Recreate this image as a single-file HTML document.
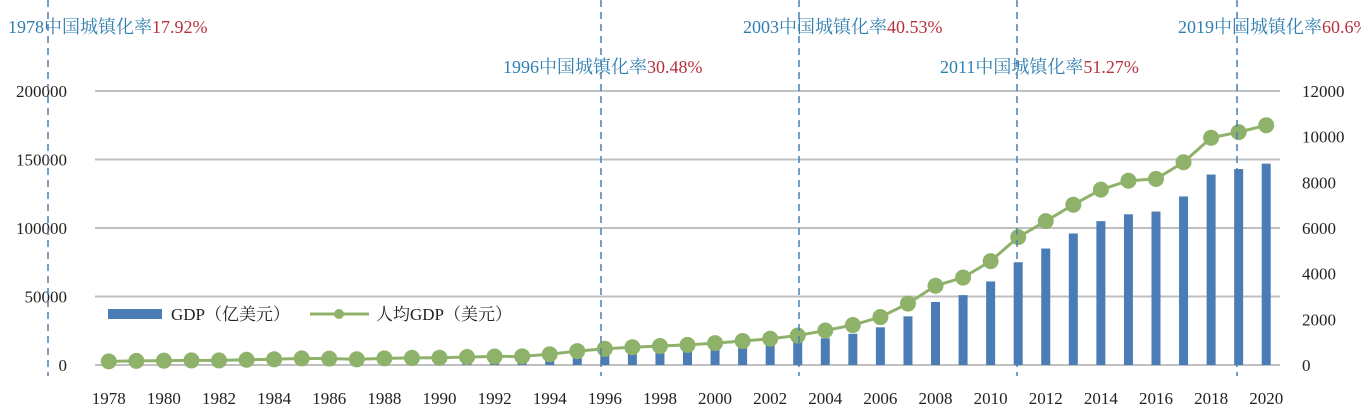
<!DOCTYPE html>
<html><head><meta charset="utf-8"><style>
body{margin:0;background:#fff;}
svg{display:block;font-family:"Liberation Serif","Noto Serif CJK SC",serif;}
</style></head><body>
<svg id="c" width="1361" height="419"></svg>
<script>
const years=[];for(let y=1978;y<=2020;y++)years.push(y);
const gdp=[1500,1800,1900,2000,2100,2300,2600,3100,3000,2700,3100,3500,3600,3800,4900,4400,5600,7300,8600,9600,10300,10900,12100,13400,14700,16600,19500,22800,27500,35500,46000,51000,61000,75000,85000,96000,105000,110000,112000,123000,139000,143000,147000];
const gdpPc=[160,180,190,200,200,230,250,290,280,250,290,310,320,350,370,380,470,610,710,780,830,880,960,1050,1150,1290,1510,1750,2100,2690,3470,3830,4550,5600,6300,7020,7680,8070,8150,8880,9950,10200,10500];
const leftTicks=[0,50000,100000,150000,200000];
const rightTicks=[0,2000,4000,6000,8000,10000,12000];
const notes=[{year:1978,label:"1978中国城镇化率",rate:"17.92%",row:0,x:8,lx:48},{year:1996,label:"1996中国城镇化率",rate:"30.48%",row:1,x:503,lx:601},{year:2003,label:"2003中国城镇化率",rate:"40.53%",row:0,x:743,lx:799},{year:2011,label:"2011中国城镇化率",rate:"51.27%",row:1,x:940,lx:1017},{year:2019,label:"2019中国城镇化率",rate:"60.6%",row:0,x:1178,lx:1237}];
const NS="http://www.w3.org/2000/svg",svg=document.getElementById('c');
const X0=95,X1=1280,Y0=365,Ytop=91;
const bw=(X1-X0)/years.length;
const xc=i=>X0+bw*(i+0.5);
const yL=v=>Y0-(v/200000)*(Y0-Ytop);
const yR=v=>Y0-(v/12000)*(Y0-Ytop);
function mk(t,a,txt){const e=document.createElementNS(NS,t);for(const k in a)e.setAttribute(k,a[k]);if(txt!=null)e.textContent=txt;svg.appendChild(e);return e;}
leftTicks.forEach(v=>{
 const g=mk('line',{x1:X0,x2:X1,y1:yL(v),y2:yL(v),stroke:'#c0c0c0','stroke-width':2});
 
 const t=mk('text',{x:67,y:yL(v)+6,'text-anchor':'end','font-size':17,fill:'#222'},String(v));
 
});
rightTicks.forEach(v=>{
 const t=mk('text',{x:1302,y:yR(v)+6,'font-size':17,fill:'#222'},String(v));
 
});
years.forEach((y,i)=>{
 const b=mk('rect',{x:xc(i)-4.5,y:yL(gdp[i]),width:9,height:Y0-yL(gdp[i]),fill:'#4a7db5'});
 
 if(i%2===0){const t=mk('text',{x:xc(i),y:404,'text-anchor':'middle','font-size':17,fill:'#222'},String(y));
 }
});
const pl=mk('polyline',{points:years.map((y,i)=>xc(i)+','+yR(gdpPc[i])).join(' '),fill:'none',stroke:'#8fb26a','stroke-width':3});

years.forEach((y,i)=>{
 const c=mk('circle',{cx:xc(i),cy:yR(gdpPc[i]),r:8,fill:'#8fb26a'});
 
});
notes.forEach(n=>{
 const l=mk('line',{x1:n.lx,x2:n.lx,y1:0,y2:376,stroke:'#4a7db5','stroke-width':1.5,'stroke-dasharray':'7,5'});
 
 const t=mk('text',{x:n.x,y:n.row?73:33,'font-size':18,fill:'#2f7fb0'});
 
 const s1=document.createElementNS(NS,'tspan');s1.textContent=n.label;t.appendChild(s1);
 const s2=document.createElementNS(NS,'tspan');s2.setAttribute('fill','#b8303c');s2.textContent=n.rate;t.appendChild(s2);
});
const lb=mk('rect',{x:108,y:309,width:54,height:10,fill:'#4a7db5'});

const lt=mk('text',{x:171,y:320,'font-size':17,fill:'#222'},'GDP（亿美元）');

const ll=mk('line',{x1:310,x2:369,y1:314,y2:314,stroke:'#8fb26a','stroke-width':3});

const lc=mk('circle',{cx:339,cy:314,r:5,fill:'#8fb26a'});

const lt2=mk('text',{x:376,y:320,'font-size':17,fill:'#222'},'人均GDP（美元）');

</script>
</body></html>
